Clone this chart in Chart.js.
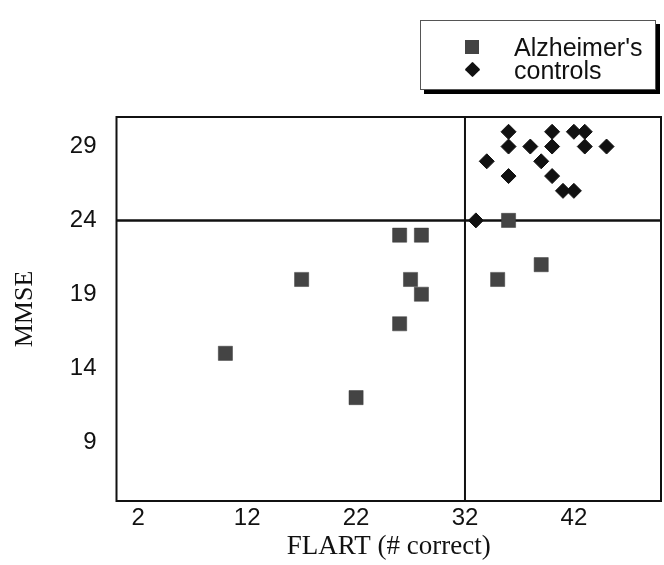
<!DOCTYPE html>
<html>
<head>
<meta charset="utf-8">
<script src="https://cdn.jsdelivr.net/npm/chart.js@4"></script>
<style>
  body { margin: 0; background: #fff; }
  #wrap { position: relative; width: 664px; height: 565px; }
  #legend {
    position: absolute; left: 420px; top: 20px; width: 236px; height: 70px;
    box-sizing: border-box; border: 1px solid #555; background: #fff;
    box-shadow: 4px 4px 0 #000;
    font-family: "Liberation Sans", Arial, sans-serif; font-size: 25px; color: #111;
  }
  .item { position: absolute; left: 0; height: 24px; line-height: 24px; }
  .item span.txt { position: absolute; left: 93px; white-space: nowrap; }
  .mk { position: absolute; }
  .sq { left: 44px; top: 5px; width: 14px; height: 14px; background: #444; }
  .dm { left: 46px; top: 6px; width: 11px; height: 11px; background: #111; transform: rotate(45deg); border-radius: 1px; }
</style>
</head>
<body>
<div id="wrap">
  <canvas id="myChart" width="664" height="565"></canvas>
  <div id="legend"></div>
</div>
<script>
const ctx = document.getElementById('myChart');
const legendBox = document.getElementById('legend');

// data
const alzX = [10, 17, 22, 26, 28, 27, 28, 26, 36, 35, 39];
const alzY = [15, 20, 12, 23, 23, 20, 19, 17, 24, 20, 21];
const ctrlX = [33, 36, 40, 42, 43, 36, 38, 40, 43, 45, 34, 39, 36, 40, 41, 42];
const ctrlY = [24, 30, 30, 30, 30, 29, 29, 29, 29, 29, 28, 28, 27, 27, 26, 26];

const xTicks = [2, 12, 22, 32, 42];
const yTicks = [9, 14, 19, 24, 29];
const xMin = 0, xMax = 50;
const yMin = 5, yMax = 31;
const flartCut = 32;
const mmseCut = 24;

function toPoints(xs, ys) {
    return xs.map((x, i) => ({ x: x, y: ys[i] }));
}

// frame round the plot area
const frame = {
    id: 'frame',
    afterDatasetsDraw(chart) {
        const a = chart.chartArea;
        const c = chart.ctx;
        c.save();
        c.strokeStyle = '#111';
        c.lineWidth = 2;
        c.strokeRect(a.left, a.top, a.right - a.left, a.bottom - a.top);
        c.restore();
    }
};

const chart = new Chart(ctx, {
    type: 'scatter',
    data: {
        datasets: [
            {
                label: 'cutoff-h',
                type: 'line',
                data: [{ x: xMin, y: mmseCut }, { x: xMax, y: mmseCut }],
                borderColor: '#111',
                borderWidth: 2.5,
                pointRadius: 0,
                order: 3
            },
            {
                label: 'cutoff-v',
                type: 'line',
                data: [{ x: flartCut, y: yMin }, { x: flartCut, y: yMax }],
                borderColor: '#111',
                borderWidth: 2,
                pointRadius: 0,
                order: 3
            },
            {
                label: "Alzheimer's",
                data: toPoints(alzX, alzY),
                pointStyle: 'rect',
                pointRadius: 10,
                backgroundColor: '#444',
                borderColor: '#3a3a3a',
                borderWidth: 0.5,
                order: 1
            },
            {
                label: 'controls',
                data: toPoints(ctrlX, ctrlY),
                pointStyle: 'rectRot',
                pointRadius: 7.5,
                backgroundColor: '#111',
                borderColor: '#111',
                borderWidth: 1,
                order: 2
            }
        ]
    },
    options: {
        responsive: false,
        animation: false,
        layout: { autoPadding: false, padding: { top: 117, right: 3, bottom: 0, left: 0 } },
        plugins: {
            legend: { display: false },
            tooltip: { enabled: false }
        },
        scales: {
            x: {
                type: 'linear',
                min: xMin,
                max: xMax,
                afterBuildTicks: (s) => { s.ticks = xTicks.map(v => ({ value: v })); },
                afterFit: (s) => {
                    s.height = 64;
                    s.paddingLeft = 0;
                    s.paddingRight = 0;
                },
                grid: { display: false, drawTicks: false },
                border: { display: false },
                ticks: {
                    padding: 3,
                    color: '#111',
                    font: { family: 'Liberation Sans', size: 24 }
                },
                title: {
                    display: true,
                    text: 'FLART (# correct)',
                    color: '#111',
                    padding: { top: 0, bottom: 2 },
                    font: { family: 'Liberation Serif', size: 27 }
                }
            },
            y: {
                type: 'linear',
                min: yMin,
                max: yMax,
                afterBuildTicks: (s) => { s.ticks = yTicks.map(v => ({ value: v })); },
                afterFit: (s) => {
                    s.width = 116.5;
                    s.paddingTop = 0;
                    s.paddingBottom = 0;
                },
                grid: { display: false, drawTicks: false },
                border: { display: false },
                ticks: {
                    padding: 20,
                    color: '#111',
                    font: { family: 'Liberation Sans', size: 24 }
                },
                title: {
                    display: true,
                    text: 'MMSE',
                    color: '#111',
                    padding: { top: 10, bottom: 0 },
                    font: { family: 'Liberation Serif', size: 26 }
                }
            }
        }
    },
    plugins: [frame]
});

// legend built from the chart's own datasets
chart.data.datasets.filter(d => d.type !== 'line').forEach((d, i) => {
    const row = document.createElement('div');
    row.className = 'item';
    row.style.top = (14 + i * 23) + 'px';
    const mk = document.createElement('span');
    mk.className = 'mk ' + (d.pointStyle === 'rect' ? 'sq' : 'dm');
    const txt = document.createElement('span');
    txt.className = 'txt';
    txt.textContent = d.label;
    row.appendChild(mk);
    row.appendChild(txt);
    legendBox.appendChild(row);
});
</script>
</body>
</html>
